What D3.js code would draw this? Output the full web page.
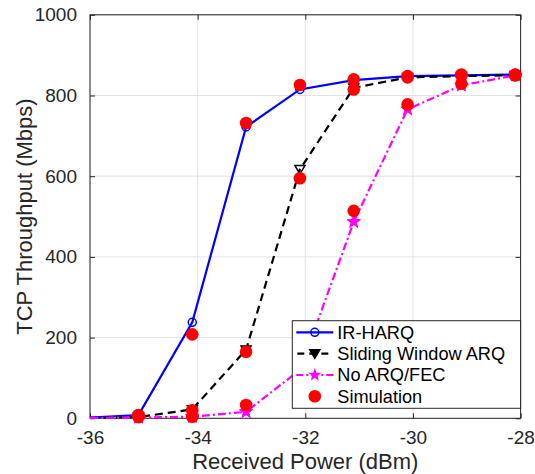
<!DOCTYPE html>
<html>
<head>
<meta charset="utf-8">
<script src="https://cdn.jsdelivr.net/npm/d3@7/dist/d3.min.js"></script>
<style>
html,body{margin:0;padding:0;background:#fff;}
svg{display:block;font-family:"Liberation Sans",Arial,Helvetica,sans-serif;}
</style>
</head>
<body>
<svg id="chart" width="535" height="474"></svg>
<script>
const xValues = [-36, -35.1, -34.1, -33.1, -32.1, -31.1, -30.1, -29.1, -28.1];
const irHarq = [2, 8, 238, 722, 815, 838, 848, 850, 852];
const slidingArq = [1, 3, 22, 170, 617, 819, 845, 848, 850];
const noArq = [1, 2, 4, 16, 120, 487, 766, 825, 850];
const simX = [-35.1, -34.1, -33.1, -32.1, -31.1, -30.1, -29.1, -28.1];
const simIr = [8, 208, 732, 826, 840, 848, 852, 852];
const simSw = [6, 20, 165, 595, 815, 845, 850, 850];
const simNo = [3, 4, 33, 130, 514, 778, 829, 850];
const xTicks = [-36, -34, -32, -30, -28];
const yTicks = [0, 200, 400, 600, 800, 1000];
const legendLabels = ["IR-HARQ", "Sliding Window ARQ", "No ARQ/FEC", "Simulation"];

const svg = d3.select("#chart");
const L = 90, R = 520.6, T = 14.8, B = 418.3;
const x = d3.scaleLinear().domain([-36, -28]).range([L, R]);
const y = d3.scaleLinear().domain([0, 1000]).range([B, T]);
const axisColor = "#262626";
const fmt = d => String(d);

// grid
const g = svg.append("g");
g.selectAll(".gx").data(xTicks).enter().append("line")
  .attr("x1", d => x(d)).attr("x2", d => x(d)).attr("y1", T).attr("y2", B)
  .attr("stroke", "#e3e3e3").attr("stroke-width", 1);
g.selectAll(".gy").data(yTicks).enter().append("line")
  .attr("x1", L).attr("x2", R).attr("y1", d => y(d)).attr("y2", d => y(d))
  .attr("stroke", "#e3e3e3").attr("stroke-width", 1);

// axes
const fs = 19;
const xAxis = d3.axisBottom(x).tickValues(xTicks).tickSizeInner(-5).tickSizeOuter(0).tickPadding(12).tickFormat(fmt);
const yAxis = d3.axisLeft(y).tickValues(yTicks).tickSizeInner(-5).tickSizeOuter(0).tickPadding(13).tickFormat(fmt);
const xa = svg.append("g").attr("transform", `translate(0,${B})`).call(xAxis);
const ya = svg.append("g").attr("transform", `translate(${L},0)`).call(yAxis);
const xt = svg.append("g").attr("transform", `translate(0,${T})`).call(d3.axisTop(x).tickValues(xTicks).tickSizeInner(-5).tickSizeOuter(0).tickFormat(""));
const yr = svg.append("g").attr("transform", `translate(${R},0)`).call(d3.axisRight(y).tickValues(yTicks).tickSizeInner(-5).tickSizeOuter(0).tickFormat(""));
[xa, ya, xt, yr].forEach(a => {
  a.select(".domain").remove();
  a.selectAll("line").attr("stroke", axisColor);
  a.selectAll("text").attr("fill", axisColor).style("font-size", fs + "px").style("font-family", "Liberation Sans, Arial, sans-serif");
});
xa.selectAll("text").attr("dy", "0.71em");
svg.append("rect").attr("x", L).attr("y", T).attr("width", R - L).attr("height", B - T)
  .attr("fill", "none").attr("stroke", axisColor).attr("stroke-width", 1);

// labels
svg.append("text").attr("x", (L + R) / 2).attr("y", 469).attr("text-anchor", "middle")
  .attr("fill", axisColor).style("font-size", "22px").text("Received Power (dBm)");
svg.append("text").attr("transform", `translate(31.5,${(T + B) / 2}) rotate(-90)`).attr("text-anchor", "middle")
  .attr("fill", axisColor).style("font-size", "22px").text("TCP Throughput (Mbps)");

const plot = svg.append("g");
const line = d3.line().x(d => x(d[0])).y(d => y(d[1]));

function star(cx, cy, r) {
  const pts = [];
  for (let i = 0; i < 10; i++) {
    const a = -Math.PI / 2 + i * Math.PI / 5;
    const rr = i % 2 === 0 ? r : r * 0.4;
    pts.push([cx + rr * Math.cos(a), cy + rr * Math.sin(a)]);
  }
  return "M" + pts.map(p => p.join(",")).join("L") + "Z";
}
function tri(cx, cy, s) {
  return `M${cx - s},${cy - s * 0.75}L${cx + s},${cy - s * 0.75}L${cx},${cy + s * 0.95}Z`;
}

// IR-HARQ
const irData = xValues.map((v, i) => [v, irHarq[i]]);
plot.append("path").datum(irData).attr("d", line).attr("fill", "none").attr("stroke", "#0000ff").attr("stroke-width", 2.2);
plot.selectAll(".irm").data(irData.slice(1)).enter().append("circle")
  .attr("cx", d => x(d[0])).attr("cy", d => y(d[1])).attr("r", 4)
  .attr("fill", "none").attr("stroke", "#0000ff").attr("stroke-width", 1.5);

// Sliding window
const swData = xValues.map((v, i) => [v, slidingArq[i]]);
plot.append("path").datum(swData).attr("d", line).attr("fill", "none").attr("stroke", "#000").attr("stroke-width", 2.2).attr("stroke-dasharray", "8,5");
plot.selectAll(".swm").data(swData.slice(1)).enter().append("path")
  .attr("d", d => tri(x(d[0]), y(d[1]), 5)).attr("fill", "none").attr("stroke", "#000").attr("stroke-width", 1.5);

// No ARQ
const noData = xValues.map((v, i) => [v, noArq[i]]);
plot.append("path").datum(noData).attr("d", line).attr("fill", "none").attr("stroke", "#ff00ff").attr("stroke-width", 2.2).attr("stroke-dasharray", "8,3,2,3");
plot.selectAll(".nom").data(noData.slice(1)).enter().append("path")
  .attr("d", d => star(x(d[0]), y(d[1]), 7)).attr("fill", "#ff00ff").attr("stroke", "#ff00ff").attr("stroke-width", 1);

// Simulation
const simAll = [];
[simIr, simSw, simNo].forEach(s => s.forEach((v, i) => simAll.push([simX[i], v])));
plot.selectAll(".sim").data(simAll).enter().append("circle")
  .attr("cx", d => x(d[0])).attr("cy", d => y(d[1])).attr("r", 6.3).attr("fill", "#ff0000");

// legend
const lx = 292.3, ly = 320.7, lw = 228.3, lh = 87.6;
const lg = svg.append("g");
lg.append("rect").attr("x", lx).attr("y", ly).attr("width", lw).attr("height", lh)
  .attr("fill", "#fff").attr("stroke", axisColor).attr("stroke-width", 1);
const rowY = [332.3, 353.6, 375.0, 396.3];
const sx1 = lx + 4, sx2 = lx + 41, smid = (sx1 + sx2) / 2;
lg.append("line").attr("x1", sx1).attr("x2", sx2).attr("y1", rowY[0]).attr("y2", rowY[0]).attr("stroke", "#0000ff").attr("stroke-width", 2.2);
lg.append("circle").attr("cx", smid).attr("cy", rowY[0]).attr("r", 4).attr("fill", "none").attr("stroke", "#0000ff").attr("stroke-width", 1.5);
lg.append("line").attr("x1", sx1).attr("x2", sx2).attr("y1", rowY[1]).attr("y2", rowY[1]).attr("stroke", "#000").attr("stroke-width", 2.2).attr("stroke-dasharray", "7,5").attr("stroke-dashoffset", -1);
lg.append("path").attr("d", tri(smid, rowY[1], 5)).attr("fill", "#000").attr("stroke", "#000").attr("stroke-width", 1.5);
lg.append("line").attr("x1", sx1).attr("x2", sx2).attr("y1", rowY[2]).attr("y2", rowY[2]).attr("stroke", "#ff00ff").attr("stroke-width", 2.2).attr("stroke-dasharray", "7,3,2,3");
lg.append("path").attr("d", star(smid, rowY[2], 7)).attr("fill", "#ff00ff");
lg.append("circle").attr("cx", smid).attr("cy", rowY[3]).attr("r", 6.3).attr("fill", "#ff0000");
lg.selectAll(".lt").data(legendLabels).enter().append("text")
  .attr("x", lx + 45).attr("y", (d, i) => rowY[i]).attr("dy", "0.35em")
  .attr("fill", "#000").style("font-size", "18.2px").text(d => d);
</script>
</body>
</html>
